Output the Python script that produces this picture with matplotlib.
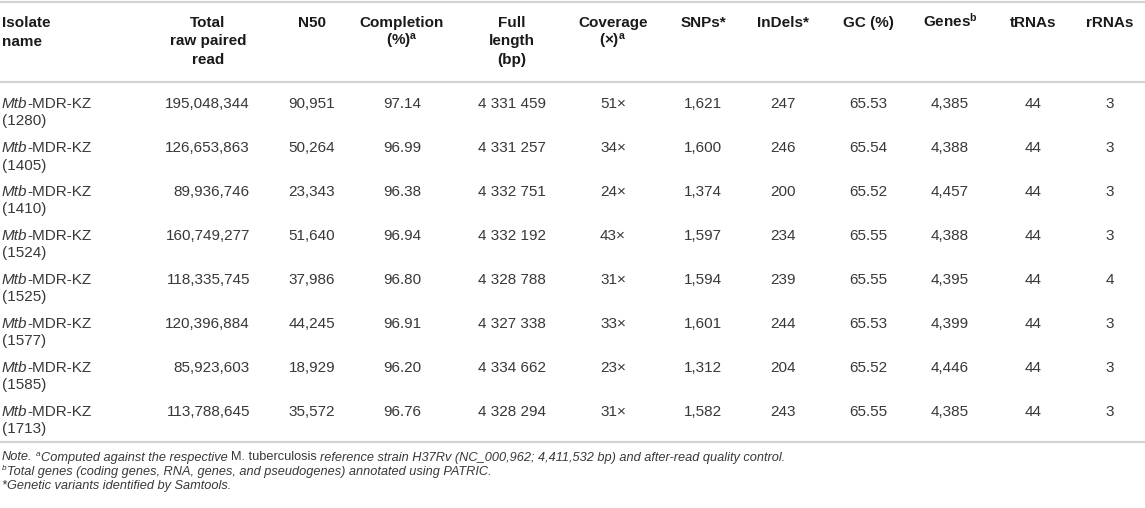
import matplotlib
matplotlib.use("Agg")
import matplotlib.pyplot as plt
from matplotlib.lines import Line2D

plt.rcParams['font.family'] = ['Liberation Sans', 'DejaVu Sans']
plt.rcParams['mathtext.fontset'] = 'custom'
plt.rcParams['mathtext.rm'] = 'Liberation Sans'
plt.rcParams['mathtext.it'] = 'Liberation Sans:italic'
plt.rcParams['mathtext.bf'] = 'Liberation Sans:bold'

# table data
isolates = ["1280", "1405", "1410", "1524", "1525", "1577", "1585", "1713"]
total_reads = [195048344, 126653863, 89936746, 160749277, 118335745, 120396884, 85923603, 113788645]
n50 = [90951, 50264, 23343, 51640, 37986, 44245, 18929, 35572]
completion = [97.14, 96.99, 96.38, 96.94, 96.80, 96.91, 96.20, 96.76]
full_length = [4331459, 4331257, 4332751, 4332192, 4328788, 4327338, 4334662, 4328294]
coverage = [51, 34, 24, 43, 31, 33, 23, 31]
snps = [1621, 1600, 1374, 1597, 1594, 1601, 1312, 1582]
indels = [247, 246, 200, 234, 239, 244, 204, 243]
gc = [65.53, 65.54, 65.52, 65.55, 65.55, 65.53, 65.52, 65.55]
genes = [4385, 4388, 4457, 4388, 4395, 4399, 4446, 4385]
trnas = [44, 44, 44, 44, 44, 44, 44, 44]
rrnas = [3, 3, 3, 3, 4, 3, 3, 3]

headers = [
    ["Isolate", "name"],
    ["Total", "raw paired", "read"],
    ["N50"],
    ["Completion", r"(%)$^{\mathbf{a}}$"],
    ["Full", "length", "(bp)"],
    ["Coverage", r"(×)$^{\mathbf{a}}$"],
    ["SNPs*"],
    ["InDels*"],
    ["GC (%)"],
    [r"Genes$^{\mathbf{b}}$"],
    ["tRNAs"],
    ["rRNAs"],
]

W, H = 1145, 508
fig = plt.figure(figsize=(W / 100, H / 100), dpi=100)
renderer = fig.canvas.get_renderer()

TXT = '#383838'
HDR = '#1a1a1a'
RULE = '#d2d2d2'


def fx(x):
    return x / W


def fy(y):
    return 1 - y / H


def rule(y):
    fig.add_artist(Line2D([0, 1], [fy(y), fy(y)], color=RULE, lw=1.6,
                          transform=fig.transFigure))


def put(x, y, s, ha='center', **kw):
    kw.setdefault('fontsize', 11)
    kw.setdefault('color', TXT)
    return fig.text(fx(x), fy(y), s, ha=ha, va='baseline', **kw)


def text_width(s, size):
    t = put(100, 100, s, fontsize=size)
    w = t.get_window_extent(renderer).width
    t.remove()
    return w


def runs(x, y, pieces, size=9.2):
    """pieces: (text, italic, superscript, space_before)"""
    sp = text_width("n n", size) - text_width("nn", size)
    for s, ital, sup, gap in pieces:
        if gap:
            x += sp
        fs = size * 0.65 if sup else size
        yy = y - 4.5 if sup else y
        t = put(x, yy, s, ha='left', fontsize=fs,
                style='italic' if ital else 'normal')
        x = t.get_window_extent(renderer).x1 * W / fig.bbox.width
    return x


cols = [2, 208, 312, 402, 512, 613, 703, 783, 868, 950, 1033, 1110]
total_right = 250

rule(1.5)
rule(82)
rule(442)

# header
hdr_base = [27, 45.5, 64]
for i, lines in enumerate(headers):
    for j, s in enumerate(lines):
        put(cols[i], hdr_base[j], s, ha='left' if i == 0 else 'center',
            fontweight='bold', color=HDR)

# body
row0, row_step, line_step = 107.5, 44, 18
for r in range(len(isolates)):
    yb = row0 + r * row_step
    x_end = runs(cols[0], yb, [("Mtb", True, False, False)], size=11)
    put(x_end, yb, "-MDR-KZ", ha='left')
    put(cols[0], yb + line_step, f"({isolates[r]})", ha='left')

    put(total_right, yb, f"{total_reads[r]:,}", ha='right')
    vals = [
        f"{n50[r]:,}",
        f"{completion[r]:.2f}",
        f"{full_length[r]:,}".replace(",", " "),
        f"{coverage[r]}×",
        f"{snps[r]:,}",
        f"{indels[r]}",
        f"{gc[r]:.2f}",
        f"{genes[r]:,}",
        f"{trnas[r]}",
        f"{rrnas[r]}",
    ]
    for k, v in enumerate(vals):
        put(cols[k + 2], yb, v)

# footnotes
runs(2, 460.5, [
    ("Note.", True, False, False),
    ("a", True, True, True),
    ("Computed against the respective", True, False, False),
    ("M. tuberculosis", False, False, True),
    ("reference strain H37Rv (NC_000,962; 4,411,532 bp) and after-read quality control.",
     True, False, True),
])
runs(2, 474.5, [
    ("b", True, True, False),
    ("Total genes (coding genes, RNA, genes, and pseudogenes) annotated using PATRIC.",
     True, False, False),
])
runs(2, 488.5, [("*Genetic variants identified by Samtools.", True, False, False)])

fig.savefig("out.png", dpi=100, facecolor='white')
